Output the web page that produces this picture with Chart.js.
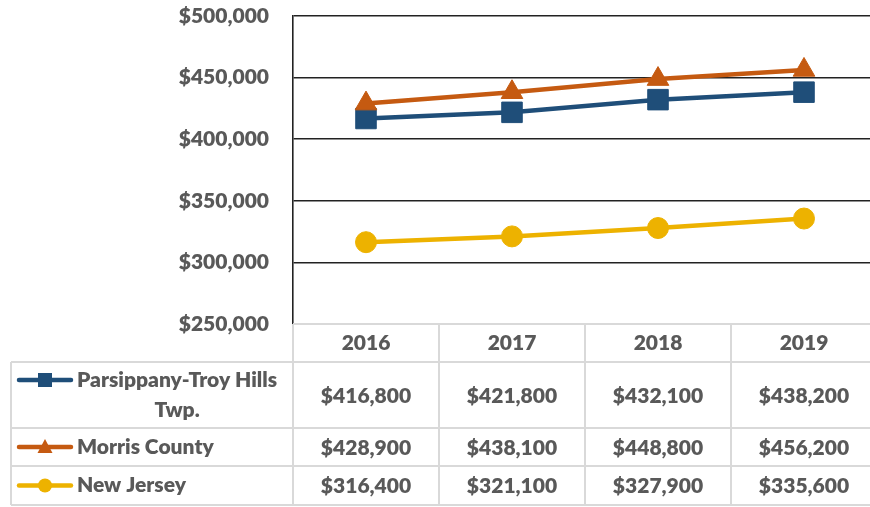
<!DOCTYPE html>
<html>
<head>
<meta charset="utf-8">
<script src="https://cdn.jsdelivr.net/npm/chart.js@4.4.1/dist/chart.umd.min.js"></script>
<style>
  html, body { margin: 0; padding: 0; background: #fff; overflow: hidden; }
  #wrap { width: 880px; height: 507px; position: relative; }
</style>
</head>
<body>
<div id="wrap"><canvas id="container"></canvas></div>
<script>
const years = ["2016", "2017", "2018", "2019"];
const seriesNames = ["Parsippany-Troy Hills Twp.", "Morris County", "New Jersey"];
const parsippany = [416800, 421800, 432100, 438200];
const morris = [428900, 438100, 448800, 456200];
const newJersey = [316400, 321100, 327900, 335600];
const yMin = 250000;
const yMax = 500000;
const yStep = 50000;

const colors = ["#1F4E79", "#C55A11", "#EDB200"];
const shapes = ["rect", "triangle", "circle"];
const textGray = "#595959";
const gridGray = "#D9D9D9";
const fontWeight = 800;

const money = (v) => "$" + v.toLocaleString("en-US");

// table rows under the plot: [top, bottom]
const rows = [[362, 428], [428, 466], [466, 505]];
const headerTop = 324;
const tableLeft = 11;

function drawKey(ctx, i, cx, cy) {
  ctx.save();
  ctx.strokeStyle = colors[i];
  ctx.fillStyle = colors[i];
  ctx.lineWidth = 4.5;
  ctx.lineCap = "round";
  ctx.beginPath();
  ctx.moveTo(cx - 26, cy);
  ctx.lineTo(cx + 26, cy);
  ctx.stroke();
  ctx.beginPath();
  if (shapes[i] == "rect") {
    ctx.rect(cx - 7, cy - 7, 14, 14);
  } else if (shapes[i] == "triangle") {
    ctx.moveTo(cx, cy - 8);
    ctx.lineTo(cx + 7.5, cy + 6);
    ctx.lineTo(cx - 7.5, cy + 6);
    ctx.closePath();
  } else {
    ctx.arc(cx, cy, 7, 0, Math.PI * 2);
  }
  ctx.fill();
  ctx.restore();
}

function wrapText(ctx, text, maxW) {
  const words = text.split(" ");
  const lines = [];
  let cur = "";
  words.forEach((w) => {
    const test = cur ? cur + " " + w : w;
    if (ctx.measureText(test).width > maxW && cur) {
      lines.push(cur);
      cur = w;
    } else {
      cur = test;
    }
  });
  lines.push(cur);
  return lines;
}

const dataTable = {
  id: "dataTable",
  afterDraw(chart) {
    const ctx = chart.ctx;
    const x = chart.scales.x;
    const half = (x.getPixelForValue(1) - x.getPixelForValue(0)) / 2;
    const colEdges = years.map((y, i) => x.getPixelForValue(i) - half);
    colEdges.push(x.getPixelForValue(years.length - 1) + half);
    const right = colEdges[colEdges.length - 1];
    const bottom = rows[rows.length - 1][1];

    ctx.save();
    ctx.strokeStyle = gridGray;
    ctx.lineWidth = 2;
    ctx.beginPath();
    ctx.moveTo(colEdges[0], headerTop);
    ctx.lineTo(right, headerTop);
    rows.forEach((r) => {
      ctx.moveTo(tableLeft, r[0]);
      ctx.lineTo(right, r[0]);
    });
    ctx.moveTo(tableLeft, bottom);
    ctx.lineTo(right, bottom);
    ctx.moveTo(tableLeft, rows[0][0]);
    ctx.lineTo(tableLeft, bottom);
    colEdges.forEach((cx) => {
      ctx.moveTo(cx, headerTop);
      ctx.lineTo(cx, bottom);
    });
    ctx.stroke();

    ctx.font = fontWeight + " 21px Lato";
    ctx.fillStyle = textGray;
    ctx.textBaseline = "middle";

    const sets = [parsippany, morris, newJersey];
    sets.forEach((vals, i) => {
      const cy = (rows[i][0] + rows[i][1]) / 2;
      // legend key + name
      const lines = wrapText(ctx, seriesNames[i], 214);
      const lh = 30;
      const y0 = cy - (lines.length - 1) * lh / 2;
      drawKey(ctx, i, 45, y0);
      const widest = Math.max(...lines.map((l) => ctx.measureText(l).width));
      ctx.fillStyle = textGray;
      ctx.textAlign = "center";
      lines.forEach((l, k) => {
        ctx.fillText(l, 77 + widest / 2, y0 + k * lh);
      });
      vals.forEach((v, j) => {
        ctx.fillText(money(v), x.getPixelForValue(j), cy + 1);
      });
    });
    ctx.restore();
  },
};

Chart.defaults.font.family = "Lato";
Chart.defaults.font.weight = fontWeight;
Chart.defaults.font.size = 21;
Chart.defaults.color = textGray;

const datasets = [parsippany, morris, newJersey].map((vals, i) => ({
  label: seriesNames[i],
  data: vals,
  borderColor: colors[i],
  backgroundColor: colors[i],
  borderWidth: 4.5,
  pointStyle: shapes[i],
  pointRadius: [14.5, 12.5, 10.5][i],
  pointBorderWidth: 1,
  pointBackgroundColor: colors[i],
  pointBorderColor: colors[i],
  tension: 0,
  order: [1, 0, 2][i],
}));

const config = {
  type: "line",
  data: { labels: years, datasets: datasets },
  options: {
    responsive: true,
    maintainAspectRatio: false,
    animation: { duration: 0 },
    layout: { autoPadding: false, padding: { top: 16, right: 3, bottom: 145, left: 0 } },
    plugins: {
      legend: { display: false },
      tooltip: { enabled: false },
    },
    scales: {
      x: {
        offset: true,
        grid: { display: false },
        border: { display: false },
        ticks: { padding: -1, color: textGray },
        afterFit: (s) => { s.height = 38; },
      },
      y: {
        min: yMin,
        max: yMax,
        ticks: {
          stepSize: yStep,
          padding: 0,
          color: textGray,
          callback: (v) => money(v),
        },
        grid: {
          drawTicks: true,
          tickLength: 24,
          tickColor: "rgba(0,0,0,0)",
          lineWidth: 1.6,
          color: (c) => (c.tick && c.tick.value == yMin ? "rgba(0,0,0,0)" : "#222"),
        },
        border: { display: true, color: "#222", width: 1.6 },
        afterFit: (s) => { s.width = 293; },
      },
    },
  },
  plugins: [dataTable],
};

const chart = new Chart(document.getElementById("container"), config);
</script>
</body>
</html>
